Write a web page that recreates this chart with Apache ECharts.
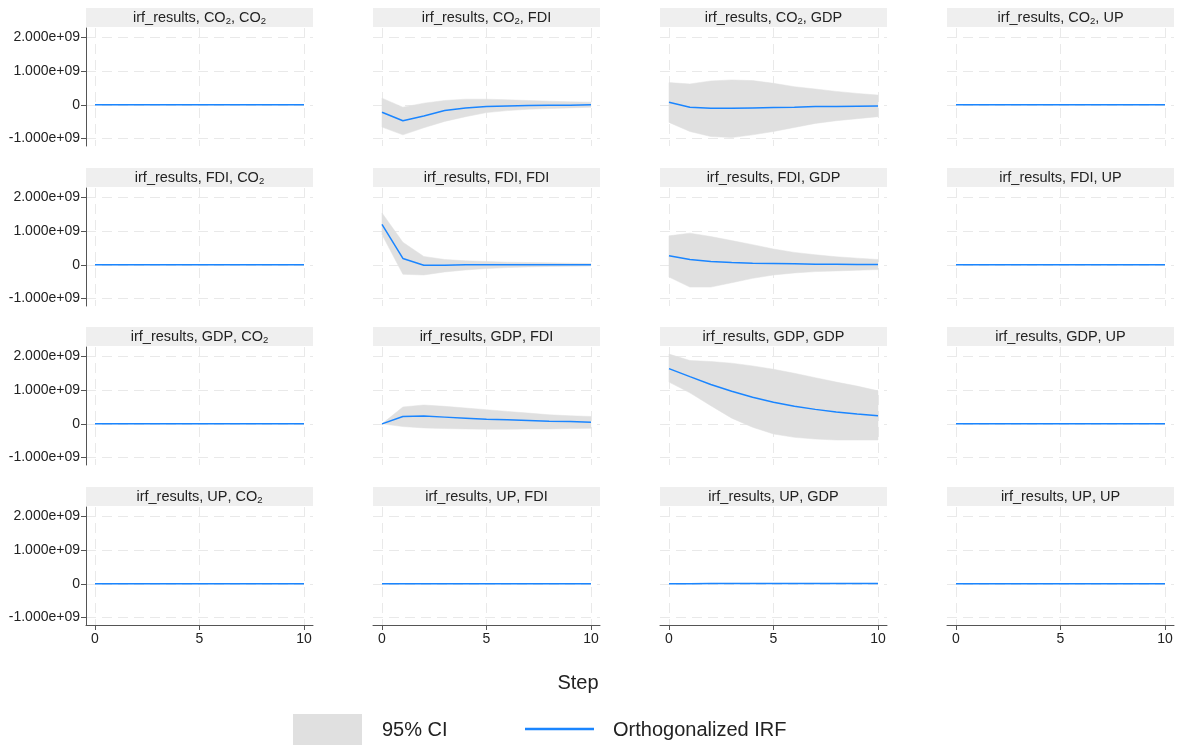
<!DOCTYPE html>
<html>
<head>
<meta charset="utf-8">
<script src="https://cdn.jsdelivr.net/npm/echarts@6/dist/echarts.min.js"></script>
<style>
html,body{margin:0;padding:0;background:#fff;}
#chart{width:1181px;height:749px;}
</style>
</head>
<body>
<div id="chart"></div>
<script>
// ---- data (values in units of 1e9) ----
const steps = [0, 1, 2, 3, 4, 5, 6, 7, 8, 9, 10];
const variables = ['CO2', 'FDI', 'GDP', 'UP'];
const xTickValues = [0, 5, 10];
const yTickValues = [-1, 0, 1, 2];
const zeros = [0, 0, 0, 0, 0, 0, 0, 0, 0, 0, 0];

const CO2_FDI_irf = [-0.22, -0.47, -0.33, -0.17, -0.09, -0.05, -0.03, -0.02, -0.01, -0.01, 0.00];
const CO2_FDI_lo  = [-0.66, -0.89, -0.68, -0.49, -0.35, -0.23, -0.17, -0.13, -0.11, -0.09, -0.07];
const CO2_FDI_hi  = [0.20, -0.07, 0.05, 0.13, 0.17, 0.17, 0.15, 0.13, 0.11, 0.09, 0.08];

const CO2_GDP_irf = [0.08, -0.07, -0.10, -0.10, -0.09, -0.08, -0.07, -0.05, -0.05, -0.04, -0.03];
const CO2_GDP_lo  = [-0.52, -0.79, -0.94, -0.97, -0.89, -0.79, -0.67, -0.55, -0.47, -0.41, -0.35];
const CO2_GDP_hi  = [0.66, 0.62, 0.71, 0.74, 0.72, 0.64, 0.54, 0.47, 0.40, 0.34, 0.29];

const FDI_FDI_irf = [1.20, 0.19, -0.01, -0.01, 0.00, 0.00, 0.00, 0.00, 0.00, 0.00, 0.00];
const FDI_FDI_lo  = [0.90, -0.28, -0.30, -0.21, -0.15, -0.11, -0.08, -0.06, -0.05, -0.04, -0.03];
const FDI_FDI_hi  = [1.54, 0.67, 0.25, 0.16, 0.12, 0.10, 0.08, 0.07, 0.06, 0.05, 0.04];

const FDI_GDP_irf = [0.27, 0.16, 0.10, 0.07, 0.05, 0.04, 0.03, 0.02, 0.02, 0.01, 0.01];
const FDI_GDP_lo  = [-0.36, -0.66, -0.66, -0.53, -0.40, -0.30, -0.24, -0.20, -0.18, -0.16, -0.14];
const FDI_GDP_hi  = [0.86, 0.94, 0.84, 0.72, 0.60, 0.47, 0.37, 0.30, 0.24, 0.20, 0.16];

const GDP_FDI_irf = [0.00, 0.22, 0.23, 0.20, 0.17, 0.14, 0.12, 0.10, 0.08, 0.07, 0.05];
const GDP_FDI_lo  = [0.00, -0.08, -0.12, -0.14, -0.15, -0.16, -0.16, -0.15, -0.15, -0.14, -0.13];
const GDP_FDI_hi  = [0.00, 0.50, 0.56, 0.52, 0.47, 0.42, 0.37, 0.32, 0.27, 0.24, 0.22];

const GDP_GDP_irf = [1.64, 1.40, 1.17, 0.97, 0.79, 0.64, 0.52, 0.43, 0.35, 0.29, 0.24];
const GDP_GDP_lo  = [1.24, 0.92, 0.54, 0.17, -0.10, -0.30, -0.40, -0.45, -0.48, -0.48, -0.48];
const GDP_GDP_hi  = [2.07, 1.88, 1.85, 1.80, 1.72, 1.62, 1.50, 1.37, 1.24, 1.12, 0.98];

const UP_GDP_irf  = [0.000, 0.005, 0.008, 0.010, 0.010, 0.010, 0.010, 0.010, 0.010, 0.010, 0.010];
const UP_GDP_lo   = [0.000, 0.000, 0.002, 0.004, 0.004, 0.004, 0.004, 0.004, 0.004, 0.004, 0.004];
const UP_GDP_hi   = [0.000, 0.010, 0.014, 0.016, 0.016, 0.016, 0.016, 0.016, 0.016, 0.016, 0.016];

const panelData = {
  CO2_FDI: [CO2_FDI_irf, CO2_FDI_lo, CO2_FDI_hi],
  CO2_GDP: [CO2_GDP_irf, CO2_GDP_lo, CO2_GDP_hi],
  FDI_FDI: [FDI_FDI_irf, FDI_FDI_lo, FDI_FDI_hi],
  FDI_GDP: [FDI_GDP_irf, FDI_GDP_lo, FDI_GDP_hi],
  GDP_FDI: [GDP_FDI_irf, GDP_FDI_lo, GDP_FDI_hi],
  GDP_GDP: [GDP_GDP_irf, GDP_GDP_lo, GDP_GDP_hi],
  UP_GDP:  [UP_GDP_irf, UP_GDP_lo, UP_GDP_hi]
};

// ---- layout ----
const colLeft = [86, 373, 660, 947];
const rowTop = [28, 188, 347, 507];
const plotW = 227, plotH = 118;
const FONT = '"Liberation Sans", Arial, sans-serif';
const BLUE = '#1a85ff';
const BAND = '#e0e0e0';
const GRIDC = '#e9e9e9';
const AXC = '#555555';

function richName(v) {
  return v === 'CO2' ? '{n|CO}{s|2}' : '{n|' + v + '}';
}

function bandRenderer(lo, hi) {
  return function (params, api) {
    if (params.dataIndex !== 0) return null;
    const pts = [];
    for (let i = 0; i < steps.length; i++) pts.push(api.coord([steps[i], hi[i]]));
    for (let i = steps.length - 1; i >= 0; i--) pts.push(api.coord([steps[i], lo[i]]));
    return {
      type: 'polygon', shape: {points: pts},
      style: {fill: BAND, stroke: BAND, lineWidth: 0.5}
    };
  };
}

const grids = [], xAxes = [], yAxes = [], series = [], graphics = [];
let k = 0;
for (let r = 0; r < 4; r++) {
  for (let c = 0; c < 4; c++) {
    const imp = variables[r], resp = variables[c];
    const key = imp + '_' + resp;
    const d = panelData[key] || [zeros, zeros, zeros];
    grids.push({left: colLeft[c], top: rowTop[r], width: plotW, height: plotH, containLabel: false});
    const isBottom = r === 3, isLeft = c === 0;
    xAxes.push({
      gridIndex: k, type: 'value', min: -0.43, max: 10.43,
      axisLine: {show: isBottom, onZero: false, lineStyle: {color: AXC, width: 1}},
      axisTick: {show: isBottom, customValues: xTickValues, length: 5, lineStyle: {color: AXC}},
      axisLabel: {show: isBottom, customValues: xTickValues, margin: 7, color: '#222', fontSize: 14, fontFamily: FONT},
      splitLine: {show: true, lineStyle: {color: GRIDC, type: [10, 6], width: 1}}
    });
    yAxes.push({
      gridIndex: k, type: 'value', min: -1.22, max: 2.28,
      axisLine: {show: isLeft, onZero: false, lineStyle: {color: AXC, width: 1}},
      axisTick: {show: isLeft, customValues: yTickValues, length: 5, lineStyle: {color: AXC}},
      axisLabel: {show: isLeft, customValues: yTickValues, margin: 6, color: '#222', fontSize: 14, fontFamily: FONT,
        formatter: v => v === 0 ? '0' : v.toFixed(3) + 'e+09'},
      splitLine: {show: true, lineStyle: {color: GRIDC, type: [10, 6], width: 1}}
    });
    const irf = d[0], lo = d[1], hi = d[2];
    series.push({
      type: 'custom', xAxisIndex: k, yAxisIndex: k, silent: true, z: 2,
      data: steps.map((s, i) => [s, lo[i], hi[i]]),
      encode: {x: 0, y: [1, 2]},
      renderItem: bandRenderer(lo, hi)
    });
    series.push({
      type: 'line', xAxisIndex: k, yAxisIndex: k,
      data: steps.map((s, i) => [s, irf[i]]), symbol: 'none', silent: true,
      lineStyle: {color: BLUE, width: 1.5}, z: 3
    });
    // header strip
    graphics.push({
      type: 'rect', shape: {x: colLeft[c], y: rowTop[r] - 20, width: plotW, height: 19},
      style: {fill: '#efefef'}, silent: true
    });
    graphics.push({
      type: 'text', x: colLeft[c] + plotW / 2, y: rowTop[r] - 10.5, silent: true,
      style: {
        text: '{n|irf_results, }' + richName(imp) + '{n|, }' + richName(resp),
        align: 'center', verticalAlign: 'middle',
        rich: {
          n: {fontSize: 14.5, fontFamily: FONT, fill: '#222', color: '#222', lineHeight: 18, verticalAlign: 'middle'},
          s: {fontSize: 9.5, fontFamily: FONT, fill: '#222', color: '#222', lineHeight: 9, verticalAlign: 'bottom'}
        }
      }
    });
    k++;
  }
}

// axis title & legend
graphics.push({type: 'text', x: 578, y: 683, silent: true,
  style: {text: 'Step', align: 'center', verticalAlign: 'middle', font: '20px ' + FONT, fill: '#222'}});
graphics.push({type: 'rect', shape: {x: 293, y: 714, width: 69, height: 31}, style: {fill: BAND}, silent: true});
graphics.push({type: 'text', x: 382, y: 730, silent: true,
  style: {text: '95% CI', align: 'left', verticalAlign: 'middle', font: '20px ' + FONT, fill: '#222'}});
graphics.push({type: 'line', shape: {x1: 525, y1: 729, x2: 594, y2: 729}, style: {stroke: BLUE, lineWidth: 2.5}, silent: true});
graphics.push({type: 'text', x: 613, y: 730, silent: true,
  style: {text: 'Orthogonalized IRF', align: 'left', verticalAlign: 'middle', font: '20px ' + FONT, fill: '#222'}});

const chart = echarts.init(document.getElementById('chart'), null, {renderer: 'canvas'});
chart.setOption({
  animation: false,
  backgroundColor: '#ffffff',
  grid: grids,
  xAxis: xAxes,
  yAxis: yAxes,
  series: series,
  graphic: graphics
});
</script>
</body>
</html>
